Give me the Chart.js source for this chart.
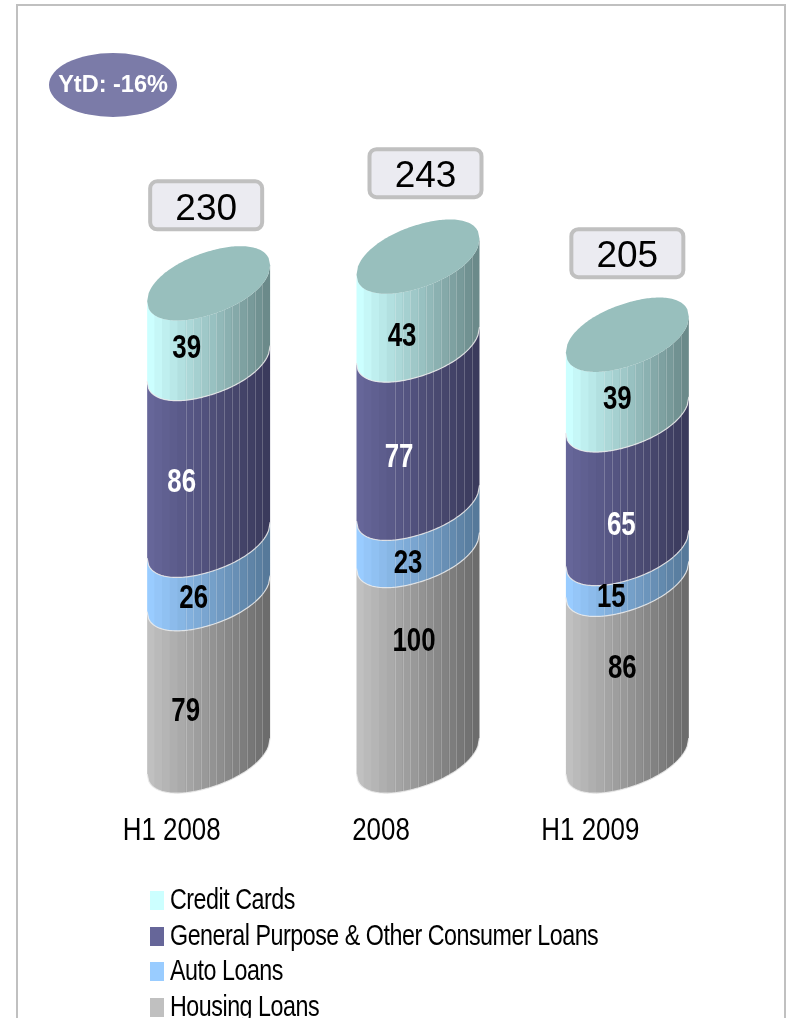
<!DOCTYPE html>
<html>
<head>
<meta charset="utf-8">
<title>Consumer loans</title>
<script src="https://cdn.jsdelivr.net/npm/chart.js@4/dist/chart.umd.js"></script>
<style>
    html, body { margin: 0; padding: 0; background: #fff; overflow: hidden; }
    #wrap { position: relative; width: 786px; height: 1018px; overflow: hidden; }
    #frame { position: absolute; left: 16px; top: 4px; right: 0; bottom: -10px; border: 2px solid #c0c0c0; }
    canvas { position: absolute; left: 0; top: 0; }
    #legend { position: absolute; left: 150px; top: 882px; font: 29px "Liberation Sans", sans-serif; letter-spacing: -0.6px; color: #000; }
    #legend div { height: 35.6px; line-height: 35.6px; white-space: nowrap; }
    #legend i { display: inline-block; width: 14px; height: 19px; margin-right: 6px; vertical-align: -1px; }
    #legend span { display: inline-block; transform: scaleX(0.803); transform-origin: left center; }
</style>
</head>
<body>
<div id="wrap">
    <div id="frame"></div>
    <canvas id="chartContainer" width="786" height="1018"></canvas>
    <div id="legend"></div>
</div>
<script>
// Data
const categories = ['H1 2008', '2008', 'H1 2009'];
const housingLoans = [79, 100, 86];
const autoLoans = [26, 23, 15];
const generalPurpose = [86, 77, 65];
const creditCards = [39, 43, 39];
const totals = [230, 243, 205];
const ytdNote = 'YtD: -16%';

// Labels were moved by hand in the original, so each one has its own nudge (housing, auto, general, credit)
const labelNudgeX = [[-23, -15, -27, -22], [-4, -10, -19, -16], [-5, -16, -6, -10]];
const labelNudgeY = [[37, 32, 31, 25], [-12, 37, 34, 36], [1, 34, 44, 25]];
const totalBoxNudge = [[-2.5, -78], [7.5, -83.5], [0, -81.5]];

// Cylinder shape
const shear = 18;
const depth = 32;
const bluntness = 2.1;
const topColor = '#98bfbd';
const sansFont = '"Liberation Sans", sans-serif';

const series = [
    { label: 'Housing Loans', data: housingLoans, color: '#c0c0c0', dark: '#6c6c6c', text: '#000' },
    { label: 'Auto Loans', data: autoLoans, color: '#99ccff', dark: '#56799a', text: '#000' },
    { label: 'General Purpose & Other Consumer Loans', data: generalPurpose, color: '#666699', dark: '#3a3a5c', text: '#fff' },
    { label: 'Credit Cards', data: creditCards, color: '#ccffff', dark: '#6b8a8a', text: '#000' }
];

function hexToRgb(hex) {
    return [1, 3, 5].map(i => parseInt(hex.slice(i, i + 2), 16));
}

function mix(c1, c2, f) {
    const a = hexToRgb(c1), b = hexToRgb(c2);
    return 'rgb(' + a.map((v, i) => Math.round(v + (b[i] - v) * f)).join(',') + ')';
}

// half height of the cap at horizontal offset u
function capHalf(u, a) {
    return depth * Math.pow(Math.max(0, 1 - Math.pow(Math.abs(u / a), bluntness)), 1 / bluntness);
}

function capEdge(ctx, x, cy, a, side, reverse) {
    const steps = 80;
    for (let i = 0; i <= steps; i++) {
        const k = reverse ? steps - i : i;
        const u = -a + 2 * a * k / steps;
        ctx.lineTo(x + u, cy - shear * u / a + side * capHalf(u, a));
    }
}

function drawSegment(ctx, el, ds) {
    const a = el.width / 2;
    ctx.save();
    ctx.beginPath();
    capEdge(ctx, el.x, el.base, a, 1, false);
    capEdge(ctx, el.x, el.y, a, 1, true);
    ctx.closePath();
    ctx.clip();
    // facets, with thin light seams on the right two thirds
    const strips = 16;
    const w = el.width / strips;
    const left = el.x - a;
    for (let i = 0; i < strips; i++) {
        ctx.fillStyle = mix(ds.color, ds.dark, i / (strips - 1));
        ctx.fillRect(left + i * w - 0.5, 0, w + 1, 1018);
        if (i >= 5) {
            ctx.fillStyle = 'rgba(255,255,255,0.22)';
            ctx.fillRect(Math.round(left + i * w), 0, 1, 1018);
        }
    }
    ctx.restore();
    ctx.beginPath();
    capEdge(ctx, el.x, el.base, a, 1, false);
    ctx.strokeStyle = 'rgba(235,235,235,0.85)';
    ctx.lineWidth = 1.2;
    ctx.stroke();
}

function drawTop(ctx, el) {
    const a = el.width / 2;
    ctx.beginPath();
    capEdge(ctx, el.x, el.y, a, 1, false);
    capEdge(ctx, el.x, el.y, a, -1, true);
    ctx.closePath();
    ctx.fillStyle = topColor;
    ctx.fill();
}

// The original uses a narrow face, so squeeze the regular one
function narrowText(ctx, text, x, y, factor) {
    ctx.save();
    ctx.translate(x, y);
    ctx.scale(factor, 1);
    ctx.fillText(text, 0, 0);
    ctx.restore();
}

function totalBox(ctx, x, y, w, h, r) {
    ctx.beginPath();
    ctx.roundRect(x, y, w, h, r);
    ctx.fillStyle = '#ebebf1';
    ctx.fill();
    ctx.strokeStyle = '#c0c0c0';
    ctx.lineWidth = 4;
    ctx.stroke();
}

const cylinderPlugin = {
    id: 'cylinders',
    beforeDatasetsDraw(chart) {
        const ctx = chart.ctx;
        const metas = chart.data.datasets.map((_, i) => chart.getDatasetMeta(i));

        // bottom of the stack first so every arc sits on the one below
        metas.forEach((meta, d) => meta.data.forEach(el => drawSegment(ctx, el, series[d])));
        metas[metas.length - 1].data.forEach(el => drawTop(ctx, el));

        ctx.textAlign = 'center';
        ctx.textBaseline = 'middle';
        metas.forEach((meta, d) => meta.data.forEach((el, i) => {
            ctx.font = 'bold 34px ' + sansFont;
            ctx.fillStyle = series[d].text;
            const mid = (el.y + el.base) / 2;
            narrowText(ctx, String(series[d].data[i]), el.x + labelNudgeX[i][d], mid + labelNudgeY[i][d], 0.76);
        }));

        // category labels, sitting left of the bars because of the 3D projection
        const xScale = chart.scales.x;
        ctx.font = '32px ' + sansFont;
        ctx.fillStyle = '#000';
        categories.forEach((c, i) => narrowText(ctx, c, xScale.getPixelForTick(i) - 37, 831, 0.81));

        // totals above each bar
        metas[metas.length - 1].data.forEach((el, i) => {
            const cx = el.x + totalBoxNudge[i][0];
            const cy = el.y + totalBoxNudge[i][1];
            totalBox(ctx, cx - 56, cy - 24, 112, 48, 7);
            ctx.font = '37px ' + sansFont;
            ctx.fillStyle = '#000';
            ctx.fillText(String(totals[i]), cx, cy + 4);
        });

        // YtD oval
        ctx.beginPath();
        ctx.ellipse(113, 85, 64, 32, 0, 0, Math.PI * 2);
        ctx.fillStyle = '#7b7ba8';
        ctx.fill();
        ctx.font = 'bold 23.5px ' + sansFont;
        ctx.fillStyle = '#fff';
        ctx.fillText(ytdNote, 113, 86);
        return false;
    }
};

const chart = new Chart(document.getElementById('chartContainer').getContext('2d'), {
    type: 'bar',
    data: {
        labels: categories,
        datasets: series.map(s => ({
            label: s.label,
            data: s.data,
            backgroundColor: s.color,
            barThickness: 123
        }))
    },
    options: {
        responsive: false,
        animation: false,
        layout: { padding: { left: 104, right: 54, top: 139.5, bottom: 0 } },
        plugins: { legend: { display: false }, tooltip: { enabled: false } },
        scales: {
            x: {
                stacked: true,
                grid: { display: false },
                border: { display: false },
                afterFit(scale) { scale.height = 262; },
                ticks: { display: false }
            },
            y: { stacked: true, display: false, min: 0, max: 300 }
        }
    },
    plugins: [cylinderPlugin]
});

// Legend, top of the stack listed first
document.getElementById('legend').innerHTML = chart.data.datasets.slice().reverse().map(ds =>
    '<div><i style="background:' + ds.backgroundColor + '"></i><span>' + ds.label.replace('&', '&amp;') + '</span></div>'
).join('');
</script>
</body>
</html>
